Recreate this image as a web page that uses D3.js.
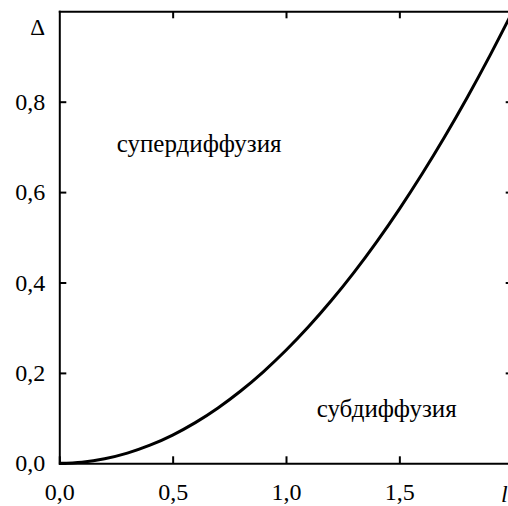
<!DOCTYPE html>
<html>
<head>
<meta charset="utf-8">
<script src="https://cdn.jsdelivr.net/npm/d3@7"></script>
<style>
  body { margin: 0; }
  svg text { font-family: "Liberation Serif", "Times New Roman", Times, "DejaVu Serif" !important; }
</style>
</head>
<body>
<script>
// values
var lValues = [0.0, 0.1, 0.2, 0.3, 0.4, 0.5, 0.6, 0.7, 0.8, 0.9, 1.0,
               1.1, 1.2, 1.3, 1.4, 1.5, 1.6, 1.7, 1.8, 1.9, 2.0];
var deltaValues = [0.0, 0.0025, 0.01, 0.0225, 0.04, 0.0625, 0.09, 0.1225, 0.16, 0.2025, 0.25,
                   0.3025, 0.36, 0.4225, 0.49, 0.5625, 0.64, 0.7225, 0.81, 0.9025, 1.0];
var xTicks = [0.0, 0.5, 1.0, 1.5];
var yTicks = [0.0, 0.2, 0.4, 0.6, 0.8];
var regionLabels = ["супердиффузия", "субдиффузия"];

var width = 508, height = 506;
var margin = {left: 59.3, top: 11.3, right: -4.7, bottom: 42.7};
var fontName = "'Liberation Serif', 'Times New Roman', Times";

var svg = d3.select("body").append("svg")
    .attr("width", width)
    .attr("height", height)
    .attr("font-family", "Liberation Serif, Times New Roman, Times");

var x = d3.scaleLinear().domain([0, 2]).range([margin.left, width - margin.right]);
var y = d3.scaleLinear().domain([0, 1]).range([height - margin.bottom, margin.top]);

//comma as decimal mark
var ru = d3.formatLocale({decimal: ",", thousands: " ", grouping: [3], currency: ["", ""]});
var fmt = ru.format(".1f");

function styleAxis(g) {
    g.attr("font-family", null).attr("font-size", null);
    g.selectAll(".domain, .tick line").attr("stroke", "#000").attr("stroke-width", 2);
    g.selectAll("text")
        .attr("font-size", 24)
        .attr("fill", "#000")
        .attr("font-family", fontName);
}

// bottom axis with labels, ticks pointing in
svg.append("g")
    .attr("transform", "translate(0," + y(0) + ")")
    .call(d3.axisBottom(x).tickValues(xTicks).tickFormat(fmt).tickSize(-7).tickSizeOuter(0).tickPadding(20))
    .call(styleAxis);

// left axis
svg.append("g")
    .attr("transform", "translate(" + x(0) + ",0)")
    .call(d3.axisLeft(y).tickValues(yTicks).tickFormat(fmt).tickSize(-7).tickSizeOuter(0).tickPadding(14))
    .call(styleAxis);

// top and right frame with ticks only
svg.append("g")
    .attr("transform", "translate(0," + y(1) + ")")
    .call(d3.axisTop(x).tickValues(xTicks.slice(1)).tickFormat("").tickSize(-7).tickSizeOuter(0))
    .call(styleAxis);
svg.append("g")
    .attr("transform", "translate(" + x(2) + ",0)")
    .call(d3.axisRight(y).tickValues(yTicks.slice(1)).tickFormat("").tickSize(-7).tickSizeOuter(0))
    .call(styleAxis);

svg.selectAll(".domain").attr("stroke-linecap", "square");

// the curve
var line = d3.line()
    .x(function(d, i) { return x(lValues[i]); })
    .y(function(d) { return y(d); })
    .curve(d3.curveMonotoneX);

svg.append("path")
    .datum(deltaValues)
    .attr("d", line)
    .attr("fill", "none")
    .attr("stroke", "#000")
    .attr("stroke-width", 3);

// axis names
svg.append("text")
    .attr("x", 45).attr("y", 35)
    .attr("text-anchor", "end")
    .attr("font-size", 23)
    .text("Δ");

svg.append("text")
    .attr("x", 501).attr("y", 502)
    .attr("font-size", 24)
    .attr("font-style", "italic")
    .text("l");

// region labels
svg.append("text")
    .attr("x", 116.7).attr("y", 151.7)
    .attr("font-size", 25)
    .text(regionLabels[0]);

svg.append("text")
    .attr("x", 316.7).attr("y", 416.7)
    .attr("font-size", 25)
    .text(regionLabels[1]);
</script>
</body>
</html>
